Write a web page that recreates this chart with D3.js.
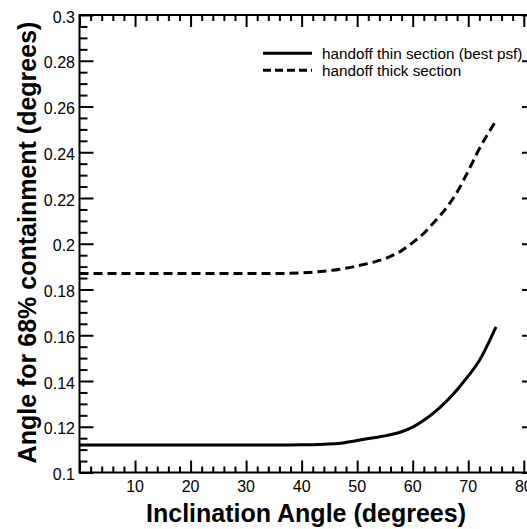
<!DOCTYPE html>
<html><head><meta charset="utf-8">
<script src="https://cdn.jsdelivr.net/npm/d3@7"></script>
<style>body{margin:0;background:#fff} svg{display:block}</style>
</head><body><svg id="c" width="527" height="529"></svg>
<script>
// ---- data ----
const inclination = [0,10,20,30,36,40,44,47,50,53,55,58,60,62,64,66,68,70,72,75];
const thinSection = [0.112,0.112,0.112,0.112,0.112,0.1121,0.1124,0.1128,0.114,0.1152,0.116,0.1178,0.1198,0.1228,0.1265,0.131,0.1362,0.1422,0.149,0.1637];
const thickSection = [0.187,0.187,0.187,0.187,0.187,0.1873,0.188,0.1889,0.1903,0.192,0.1935,0.197,0.2005,0.2046,0.2098,0.2155,0.2226,0.2318,0.2415,0.2538];
const seriesNames = ["handoff thin section (best psf)", "handoff thick section"];
const xTickValues = [10,20,30,40,50,60,70,80];
const xTickLabels = ["10","20","30","40","50","60","70","80"];
const yTickValues = [0.1,0.12,0.14,0.16,0.18,0.2,0.22,0.24,0.26,0.28,0.3];
const yTickLabels = ["0.1","0.12","0.14","0.16","0.18","0.2","0.22","0.24","0.26","0.28","0.3"];
const xTitle = "Inclination Angle (degrees)";
const yTitle = "Angle for 68% containment (degrees)";

// ---- layout ----
const L = 79.5, R = 536, T = 15, B = 472.5;
const svg = d3.select("#c");
const x = d3.scaleLinear().domain([0, 82.2]).range([L, R]);
const y = d3.scaleLinear().domain([0.1, 0.3]).range([B, T]);

const xMinor = d3.range(0, 83, 2).filter(v => v % 10 !== 0);
const xMajor = d3.range(0, 83, 10);
const yMinor = d3.range(0, 41).map(i => +(0.1 + i*0.005).toFixed(3)).filter((v,i) => i % 4 !== 0);

function styleAxis(g){
  g.select(".domain").remove();
  g.selectAll(".tick line").attr("stroke","#000").attr("stroke-width",2);
}
// bottom
svg.append("g").attr("transform",`translate(0,${B})`)
  .call(d3.axisBottom(x).tickValues(xMinor).tickSize(-6).tickFormat("")).call(styleAxis);
svg.append("g").attr("transform",`translate(0,${B})`)
  .call(d3.axisBottom(x).tickValues(xMajor).tickSize(-12).tickFormat("")).call(styleAxis);
// top
svg.append("g").attr("transform",`translate(0,${T})`)
  .call(d3.axisTop(x).tickValues(xMinor).tickSize(-6).tickFormat("")).call(styleAxis);
svg.append("g").attr("transform",`translate(0,${T})`)
  .call(d3.axisTop(x).tickValues(xMajor).tickSize(-12).tickFormat("")).call(styleAxis);
// left
svg.append("g").attr("transform",`translate(${L},0)`)
  .call(d3.axisLeft(y).tickValues(yMinor).tickSize(-8).tickFormat("")).call(styleAxis);
svg.append("g").attr("transform",`translate(${L},0)`)
  .call(d3.axisLeft(y).tickValues(yTickValues).tickSize(-14).tickFormat("")).call(styleAxis);
// right
svg.append("g").attr("transform",`translate(${R},0)`)
  .call(d3.axisRight(y).tickValues(yMinor).tickSize(-8).tickFormat("")).call(styleAxis);
svg.append("g").attr("transform",`translate(${R},0)`)
  .call(d3.axisRight(y).tickValues(yTickValues).tickSize(-14).tickFormat("")).call(styleAxis);

// frame
svg.append("rect").attr("x",L).attr("y",T).attr("width",R-L).attr("height",B-T)
  .attr("fill","none").attr("stroke","#000").attr("stroke-width",2);

// tick labels
const font = "Liberation Sans, Arial, Helvetica, sans-serif";
svg.append("g").selectAll("text").data(xTickValues).join("text")
  .attr("x", d => x(d)).attr("y", 492)
  .attr("text-anchor","middle").attr("font-family",font).attr("font-size",16)
  .text((d,i) => xTickLabels[i]);
svg.append("g").selectAll("text").data(yTickValues).join("text")
  .attr("x", 75).attr("y", d => y(d) + 7.5)
  .attr("text-anchor","end").attr("font-family",font).attr("font-size",16)
  .text((d,i) => yTickLabels[i]);

// titles
svg.append("text").attr("x",306).attr("y",522).attr("text-anchor","middle")
  .attr("font-family",font).attr("font-weight","bold").attr("font-size",25).text(xTitle);
svg.append("text").attr("transform","translate(35.5,242.5) rotate(-90)").attr("text-anchor","middle")
  .attr("font-family",font).attr("font-weight","bold").attr("font-size",25).text(yTitle);

// curves
const line = d3.line().x((d,i) => x(inclination[i])).y(d => y(d)).curve(d3.curveMonotoneX);
svg.append("path").datum(thinSection).attr("d",line)
  .attr("fill","none").attr("stroke","#000").attr("stroke-width",3);
svg.append("path").datum(thickSection).attr("d",line)
  .attr("fill","none").attr("stroke","#000").attr("stroke-width",3).attr("stroke-dasharray","9,5");

// legend
const leg = svg.append("g");
[0,1].forEach(i => {
  const yy = 53.3 + i*17;
  leg.append("line").attr("x1",263).attr("x2",312).attr("y1",yy).attr("y2",yy)
    .attr("stroke","#000").attr("stroke-width",3).attr("stroke-dasharray", i ? "8,4" : null);
  leg.append("text").attr("x",322).attr("y",yy+5.3).attr("font-family",font).attr("font-size",15.3)
    .text(seriesNames[i]);
});
</script></body></html>
